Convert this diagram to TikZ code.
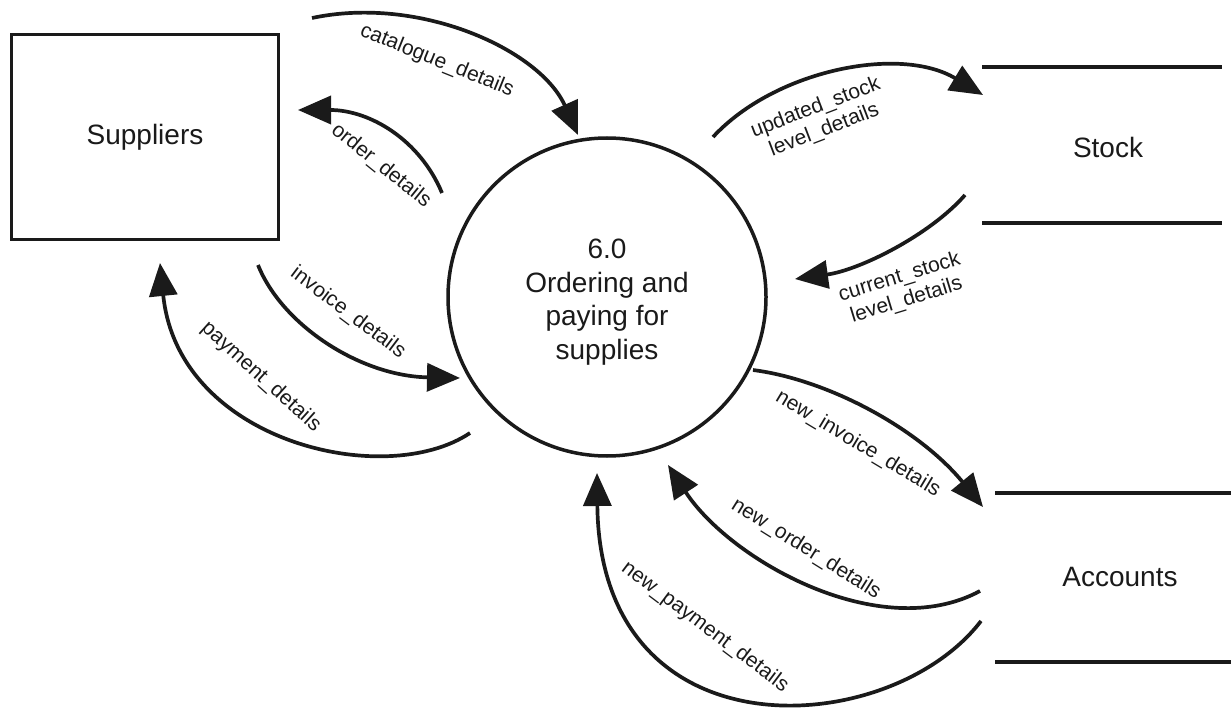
\documentclass[tikz,border=0pt]{standalone}
\usepackage{fontspec}
\setmainfont{Liberation Sans}
\usetikzlibrary{arrows.meta}

\definecolor{ink}{HTML}{1A1A1A}

\tikzset{
  entity/.style={draw=ink, line width=3.8pt, minimum width=267pt, minimum height=205pt,
                 inner sep=0pt, font=\fontsize{28}{33}\selectfont, text=ink},
  process/.style={draw=ink, circle, line width=3.5pt, minimum size=318pt, inner sep=0pt},
  proctext/.style={align=center, font=\fontsize{28}{33.5}\selectfont, text=ink, inner sep=0pt},
  storetext/.style={font=\fontsize{28}{33}\selectfont, text=ink, inner sep=0pt},
  storeline/.style={draw=ink, line width=3.6pt},
  flow/.style={draw=ink, line width=3.7pt, -{Triangle[length=33pt, width=28pt]}},
  flowlabel/.style={font=\fontsize{21}{24}\selectfont, text=ink, inner sep=0pt, align=center},
}

\begin{document}
\begin{tikzpicture}[x=1pt, y=-1pt]
\useasboundingbox (0,0) rectangle (1231,711);

% external entity, process and data stores
\node[entity] (sup) at (145,137) {Suppliers};
\node[process] (proc) at (607,297) {};
\node[proctext] (proc-text) at (607,302) {6.0\\Ordering and\\paying for\\supplies};

\node[storetext] (stock) at (1108,147) {Stock};
\coordinate (st-a) at (982,67);   \coordinate (st-b) at (1222,67);
\coordinate (st-c) at (982,223);  \coordinate (st-d) at (1222,223);
\draw[storeline] (st-a) -- (st-b);
\draw[storeline] (st-c) -- (st-d);

\node[storetext] (acc) at (1120,577) {Accounts};
\coordinate (ac-a) at (995,493);  \coordinate (ac-b) at (1231,493);
\coordinate (ac-c) at (995,662);  \coordinate (ac-d) at (1231,662);
\draw[storeline] (ac-a) -- (ac-b);
\draw[storeline] (ac-c) -- (ac-d);

% end points of the data flows
\coordinate (cat-s) at (312,18);   \coordinate (cat-e) at (578,135);
\coordinate (ord-s) at (442,193);  \coordinate (ord-e) at (298,110);
\coordinate (upd-s) at (713,137);  \coordinate (upd-e) at (983,95);
\coordinate (cur-s) at (965,195);  \coordinate (cur-e) at (795,279);
\coordinate (inv-s) at (258,265);  \coordinate (inv-e) at (460,378);
\coordinate (pay-s) at (470,433);  \coordinate (pay-e) at (160,263);
\coordinate (ninv-s) at (753,370); \coordinate (ninv-e) at (983,507);
\coordinate (nord-s) at (980,591); \coordinate (nord-e) at (668,465);
\coordinate (npay-s) at (981,621); \coordinate (npay-e) at (597,473);

% data flows
\draw[flow] (cat-s) .. controls (420,-5) and (540,50) .. (cat-e);
\draw[flow] (ord-s) .. controls (420,140) and (370,110) .. (ord-e);
\draw[flow] (upd-s) .. controls (775,70) and (900,45) .. (upd-e);
\draw[flow] (cur-s) .. controls (930,235) and (860,270) .. (cur-e);
\draw[flow] (inv-s) .. controls (282,325) and (360,376) .. (inv-e);
\draw[flow] (pay-s) .. controls (385,490) and (178,442) .. (pay-e);
\draw[flow] (ninv-s) .. controls (830,380) and (920,430) .. (ninv-e);
\draw[flow] (nord-s) .. controls (880,645) and (730,560) .. (nord-e);
\draw[flow] (npay-s) .. controls (890,740) and (600,760) .. (npay-e);

% flow labels
\node[flowlabel, rotate=-22] (l-cat) at (437,61) {catalogue\_details};
\node[flowlabel, rotate=-39] (l-ord) at (381,166) {order\_details};
\node[flowlabel, rotate=21] (l-upd) at (820,119) {updated\_stock\\level\_details};
\node[flowlabel, rotate=17] (l-cur) at (903,289) {current\_stock\\level\_details};
\node[flowlabel, rotate=-37] (l-inv) at (348,313) {invoice\_details};
\node[flowlabel, rotate=-42] (l-pay) at (261,377) {payment\_details};
\node[flowlabel, rotate=-31] (l-ninv) at (858,444) {new\_invoice\_details};
\node[flowlabel, rotate=-32] (l-nord) at (806,549) {new\_order\_details};
\node[flowlabel, rotate=-37] (l-npay) at (705,627) {new\_payment\_details};
\end{tikzpicture}
\end{document}
